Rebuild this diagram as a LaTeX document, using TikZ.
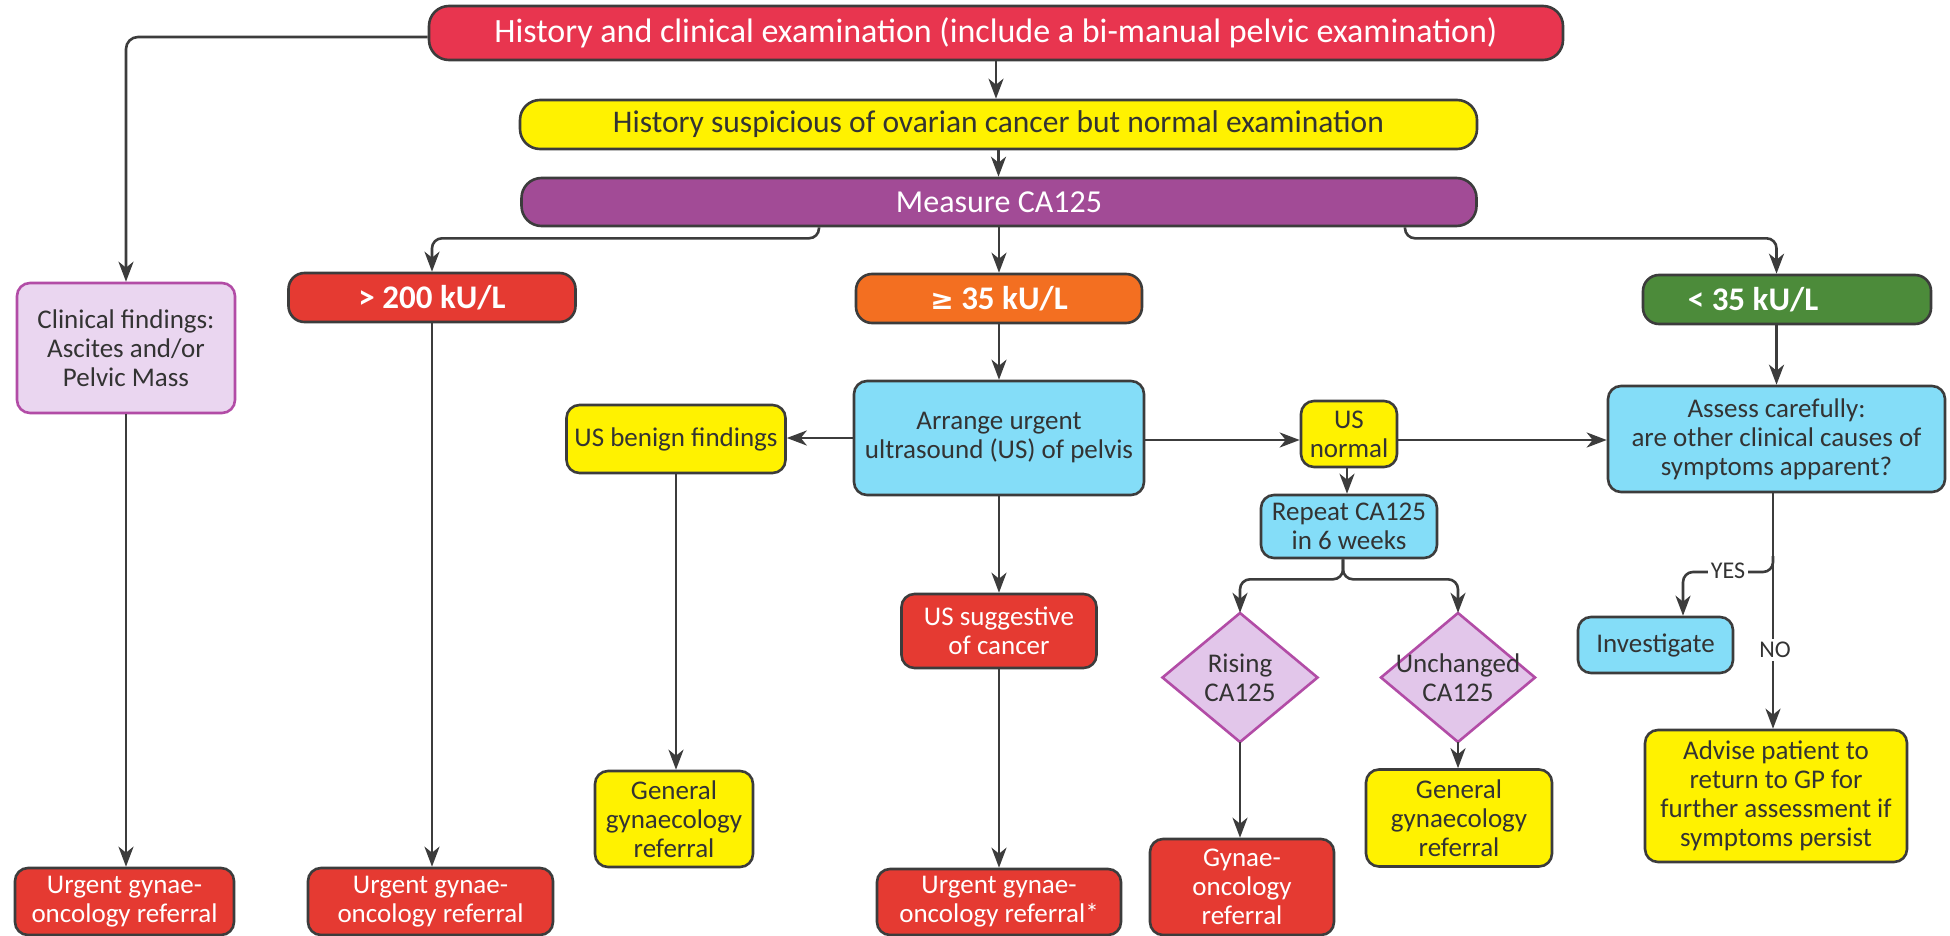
\documentclass[tikz,border=0pt]{standalone}
\usepackage{fontspec}
\setmainfont{Carlito}
\newfontfamily\dejavu{DejaVu Sans}
\usetikzlibrary{arrows.meta,calc}
\definecolor{cred}{HTML}{E53A32}
\definecolor{ctop}{HTML}{E8354F}
\definecolor{corange}{HTML}{F36F21}
\definecolor{cgreen}{HTML}{4C8B3A}
\definecolor{cpurple}{HTML}{A24B96}
\definecolor{cyellow}{HTML}{FFF200}
\definecolor{cblue}{HTML}{84DDF8}
\definecolor{clav}{HTML}{EAD6F0}
\definecolor{cdia}{HTML}{E2C6EA}
\definecolor{cmag}{HTML}{B24CA6}
\definecolor{cborder}{HTML}{3C3C3C}
\definecolor{ctext}{HTML}{333333}
\begin{document}
\begin{tikzpicture}[x=1pt,y=-1pt,
  box/.style={draw=cborder, line width=2.6pt, rounded corners=13pt, inner sep=0pt, align=center,
    font=\fontsize{27}{29}\selectfont, text=ctext},
  pill/.style={box, rounded corners=20pt},
  hdr/.style={box, rounded corners=16pt, text=white, font=\fontsize{33}{35}\selectfont\bfseries},
  redbox/.style={box, fill=cred, text=white},
  yelbox/.style={box, fill=cyellow},
  bluebox/.style={box, fill=cblue},
  diashape/.style={draw=cmag, fill=cdia, line width=2.6pt, line join=miter},
  diatext/.style={inner sep=0pt, align=center, text=ctext, font=\fontsize{27}{29}\selectfont},
  arr/.style={draw=cborder, line width=2.6pt, -{Stealth[length=20pt,width=15pt,inset=6pt]}},
  lbl/.style={fill=white, inner sep=3pt, text=ctext, font=\fontsize{24}{26}\selectfont},
]
\useasboundingbox (0,0) rectangle (1950,936);
\fill[white] (0,0) rectangle (1950,936);
\begin{scope}
\clip (0,0) rectangle (1950,936);
% top rows
\node[pill, fill=ctop, text=white, font=\fontsize{34}{36}\selectfont, minimum width=1134pt, minimum height=54pt] (top) at (996,33) {History and clinical examination (include a bi-manual pelvic examination)};
\node[pill, fill=cyellow, font=\fontsize{31.5}{33}\selectfont, minimum width=957pt, minimum height=49pt] (susp) at (998.5,124.5) {History suspicious of ovarian cancer but normal examination};
\node[pill, fill=cpurple, text=white, font=\fontsize{32}{34}\selectfont, minimum width=955pt, minimum height=48pt] (measure) at (999,202) {Measure CA125};
% row 2
\node[box, draw=cmag, fill=clav, minimum width=218pt, minimum height=130pt] (clinical) at (126,348) {Clinical findings:\\Ascites and/or\\Pelvic Mass};
\node[hdr, fill=cred, minimum width=287pt, minimum height=49pt] (gt200) at (432,297.5) {> 200 kU/L};
\node[hdr, fill=corange, minimum width=286pt, minimum height=49pt] (ge35) at (999,298.5) {{\dejavu\bfseries\fontsize{28}{30}\selectfont ≥} 35 kU/L};
\node[hdr, fill=cgreen, minimum width=288pt, minimum height=49pt] (lt35) at (1787,299.5) {};
\node[text=white, font=\fontsize{33}{35}\selectfont\bfseries, inner sep=0pt] (lt35t) at (1753,299.5) {< 35 kU/L};
% row 3
\node[yelbox, minimum width=219pt, minimum height=68pt] (benign) at (676,439) {US benign findings};
\node[bluebox, minimum width=290pt, minimum height=114pt] (arrange) at (999,438) {Arrange urgent\\ultrasound (US) of pelvis};
\node[yelbox, minimum width=96pt, minimum height=66pt] (usnormal) at (1349,434) {US\\normal};
\node[bluebox, minimum width=337pt, minimum height=106pt] (assess) at (1776.5,439) {Assess carefully:\\are other clinical causes of\\symptoms apparent?};
\node[bluebox, minimum width=176pt, minimum height=63pt] (repeat) at (1349,526.5) {Repeat CA125\\in 6 weeks};
% row 4
\node[redbox, minimum width=195pt, minimum height=74pt] (suggest) at (999,631) {US suggestive\\of cancer};
\path[diashape] (1240,613) -- (1317.5,677.5) -- (1240,742) -- (1162.5,677.5) -- cycle;
\node[diatext, minimum width=155pt, minimum height=129pt] (rising) at (1240,677.5) {Rising\\CA125};
\path[diashape] (1458,613) -- (1535,677.5) -- (1458,742) -- (1381,677.5) -- cycle;
\node[diatext, minimum width=154pt, minimum height=129pt] (unchanged) at (1458,677.5) {Unchanged\\CA125};
\node[bluebox, minimum width=155pt, minimum height=56pt] (investigate) at (1655.5,645) {Investigate};
\node[yelbox, minimum width=262pt, minimum height=132pt] (advise) at (1776,796) {Advise patient to\\return to GP for\\further assessment if\\symptoms persist};
% bottom
\node[yelbox, minimum width=158pt, minimum height=96pt] (genleft) at (674,819) {General\\gynaecology\\referral};
\node[yelbox, minimum width=186pt, minimum height=97pt] (genright) at (1459,818) {General\\gynaecology\\referral};
\node[redbox, minimum width=184pt, minimum height=96pt] (gynae) at (1242,887) {Gynae-\\oncology\\referral};
\node[redbox, minimum width=244pt, minimum height=66pt] (ustar) at (999,902) {Urgent gynae-\\oncology referral*};
\node[redbox, minimum width=219pt, minimum height=67pt] (urgent1) at (124.5,901.5) {Urgent gynae-\\oncology referral};
\node[redbox, minimum width=245pt, minimum height=67pt] (urgent2) at (430.5,901.5) {Urgent gynae-\\oncology referral};
\end{scope}
% connectors
\draw[arr] (top.south) -- (top.south |- susp.north);
\draw[arr] (susp.south) -- (susp.south |- measure.north);
\draw[arr, rounded corners=12pt] ([yshift=-4pt]top.west) -| (clinical.north);
\draw[arr, rounded corners=10pt] ([xshift=-180pt]measure.south) -- ++(0,11) -| (gt200.north);
\draw[arr] (measure.south) -- (measure.south |- ge35.north);
\draw[arr, rounded corners=10pt] ([xshift=406pt]measure.south) -- ++(0,11) -| (lt35.north -| assess.north);
\draw[arr] (clinical.south) -- (clinical.south |- urgent1.north);
\draw[arr] (gt200.south) -- (gt200.south |- urgent2.north);
\draw[arr] (ge35.south) -- (ge35.south |- arrange.north);
\draw[arr] (lt35.south -| assess.north) -- (assess.north);
\draw[arr] (arrange.west) -- (arrange.west -| benign.east);
\draw[arr] ([yshift=-2pt]arrange.east) -- ([yshift=-2pt]arrange.east -| usnormal.west);
\draw[arr] ([yshift=-2pt]arrange.east -| usnormal.east) -- ([yshift=-2pt]arrange.east -| assess.west);
\draw[arr] ([xshift=-2pt]usnormal.south) -- ([xshift=-2pt]usnormal.south |- repeat.north);
\draw[arr] (arrange.south) -- (arrange.south |- suggest.north);
\draw[arr] (benign.south) -- (benign.south |- genleft.north);
\draw[arr] (suggest.south) -- (suggest.south |- ustar.north);
\draw[arr, rounded corners=10pt] ([xshift=-6pt]repeat.south) -- ++(0,20) -| (rising.north);
\draw[arr, rounded corners=10pt] ([xshift=-6pt]repeat.south) -- ++(0,20) -| (unchanged.north);
\draw[arr] (rising.south) -- (rising.south |- gynae.north);
\draw[arr] (unchanged.south) -- (unchanged.south |- genright.north);
\coordinate (yj) at (1773,556);
\coordinate (yk) at (1683,572);
\draw[arr] ([xshift=-3.5pt]assess.south) -- ([xshift=-3.5pt]assess.south |- advise.north);
\draw[arr, rounded corners=10pt] (yj) |- (yk) -- (yk |- investigate.north);
\node[lbl] (yes) at (1728,571) {YES};
\node[lbl] (no) at (1775,650) {NO};
\end{tikzpicture}
\end{document}
